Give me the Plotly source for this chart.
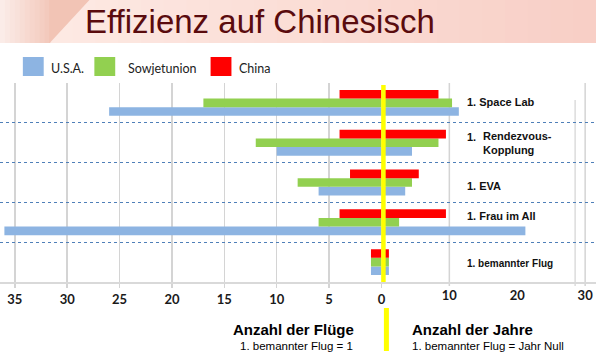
import plotly.graph_objects as go

# ---------------- data ----------------
categories = ["1. Space Lab", "1. Rendezvous-Kopplung", "1. EVA", "1. Frau im All", "1. bemannter Flug"]
series_names = ["U.S.A.", "Sowjetunion", "China"]
# left side: Anzahl der Flüge
flights_usa = [26, 10, 6, 36, 1]
flights_su = [17, 12, 8, 6, 1]
flights_cn = [4, 4, 3, 4, 1]
# right side: Anzahl der Jahre
years_usa = [11.4, 4.5, 3.5, 21.2, 1.1]
years_su = [10.4, 8.4, 4.5, 2.6, 1.1]
years_cn = [8.4, 9.5, 5.5, 9.5, 1.1]
left_ticks = [35, 30, 25, 20, 15, 10, 5, 0]
right_ticks = [10, 20, 30]
right_grid = [10, 30]

colors = {"U.S.A.": "#8db4e2", "Sowjetunion": "#92d050", "China": "#ff0000"}
flights = {"U.S.A.": flights_usa, "Sowjetunion": flights_su, "China": flights_cn}
years = {"U.S.A.": years_usa, "Sowjetunion": years_su, "China": years_cn}

W, H = 600, 360
PT, PB = 83, 282  # plot area top / bottom in px


def py(y):
    return (PB - y) / (PB - PT)


def px(x):
    return x / W


fig = go.Figure()
for name in series_names:
    fig.add_trace(go.Bar(y=categories, x=flights[name], orientation="h", name=name,
                         marker=dict(color=colors[name], line=dict(width=0)),
                         xaxis="x", yaxis="y", showlegend=False, hoverinfo="skip"))
    fig.add_trace(go.Bar(y=categories, x=years[name], orientation="h", name=name,
                         marker=dict(color=colors[name], line=dict(width=0)),
                         xaxis="x2", yaxis="y", showlegend=False, hoverinfo="skip"))

tickfont = dict(family="Lato", size=13, color="#1a1a1a", weight="bold")

shapes = []
annotations = []

# ---------- header background ----------
def mix(c1, c2, t):
    a = [int(c1[i:i + 2], 16) for i in (1, 3, 5)]
    b = [int(c2[i:i + 2], 16) for i in (1, 3, 5)]
    return "#%02x%02x%02x" % tuple(round(a[k] + (b[k] - a[k]) * t) for k in range(3))

HB = 43
n = 24
for i in range(n):
    x0 = 50 + (600 - 50) * i / n
    x1 = 50 + (600 - 50) * (i + 1) / n + 1
    shapes.append(dict(type="rect", xref="paper", yref="paper", x0=px(x0), x1=px(min(x1, 600)),
                       y0=py(HB), y1=py(0), fillcolor=mix("#fde9e3", "#f8cfc6", i / (n - 1)),
                       line=dict(width=0), layer="below"))
m = 10
for i in range(m):
    x0 = 50 * i / m
    x1 = 50 * (i + 1) / m + 0.6
    shapes.append(dict(type="rect", xref="paper", yref="paper", x0=px(x0), x1=px(x1),
                       y0=py(HB), y1=py(0), fillcolor=mix("#fbece8", "#f3cabd", i / (m - 1)),
                       line=dict(width=0), layer="below"))
shapes.append(dict(type="path", xref="paper", yref="paper",
                   path="M %f,%f L %f,%f L %f,%f L %f,%f Z" % (px(49.5), py(HB), px(49.5), py(0), px(90), py(0), px(50), py(HB)),
                   fillcolor="#f2c4b5", line=dict(width=0), layer="below"))

annotations.append(dict(text="Effizienz auf Chinesisch", xref="paper", yref="paper",
                        x=px(262), y=py(21), xanchor="center", yanchor="middle", showarrow=False,
                        font=dict(family="Liberation Sans", size=33, color="#5a0b0e")))

# ---------- custom legend ----------
leg_pos = {"U.S.A.": (23, 49), "Sowjetunion": (95, 127), "China": (212, 239)}
for name in series_names:
    bx, tx = leg_pos[name]
    shapes.append(dict(type="rect", xref="paper", yref="paper", x0=px(bx), x1=px(bx + 21),
                       y0=py(76), y1=py(57), fillcolor=colors[name], line=dict(width=0)))
    annotations.append(dict(text=name, xref="paper", yref="paper", x=px(tx), y=py(69),
                            xanchor="left", yanchor="middle", showarrow=False,
                            font=dict(family="Lato", size=12.5, color="#222222")))

# ---------- grid extras ----------
for g in right_grid:
    shapes.append(dict(type="line", xref="x2", yref="paper", x0=g, x1=g, y0=py(286), y1=1,
                       line=dict(color="#d4d4d4", width=1.5), layer="below"))
shapes.append(dict(type="line", xref="paper", yref="paper", x0=px(579), x1=px(579), y0=py(286), y1=py(100),
                   line=dict(color="#dcdcdc", width=1.5), layer="below"))

# yellow zero line
shapes.append(dict(type="line", xref="paper", yref="paper", x0=px(386), x1=px(386), y0=0, y1=py(85),
                   line=dict(color="#ffff00", width=4.5)))
shapes.append(dict(type="line", xref="paper", yref="paper", x0=px(389), x1=px(389), y0=py(308), y1=py(351),
                   line=dict(color="#ffff00", width=5)))

# ---------- category labels ----------
lab_font = dict(family="Liberation Sans", size=11, color="#111111")
label_x = 12.3
for cat in categories:
    if cat == "1. Rendezvous-Kopplung":
        annotations.append(dict(text="<b>1.</b>", xref="x2", yref="y", x=label_x, y=cat, yshift=6,
                                xanchor="left", yanchor="middle", showarrow=False, font=lab_font))
        annotations.append(dict(text="<b>Rendezvous-<br>Kopplung</b>", xref="x2", yref="y", x=14.6, y=cat,
                                xanchor="left", yanchor="middle", align="left", showarrow=False, font=lab_font))
    else:
        ys = {"1. EVA": -3, "1. Frau im All": 6, "1. Space Lab": 1, "1. bemannter Flug": -1}[cat]
        f = dict(lab_font)
        if cat == "1. bemannter Flug":
            f["size"] = 10
        annotations.append(dict(text="<b>%s</b>" % cat, xref="x2", yref="y", x=label_x, y=cat, yshift=ys,
                                xanchor="left", yanchor="middle", showarrow=False, font=f))

# ---------- bottom captions ----------
annotations += [
    dict(text="<b>Anzahl der Flüge</b>", xref="paper", yref="paper", x=px(358), y=py(329),
         xanchor="right", yanchor="middle", showarrow=False,
         font=dict(family="Liberation Sans", size=15, color="#000000")),
    dict(text="1. bemannter Flug = 1", xref="paper", yref="paper", x=px(357), y=py(346),
         xanchor="right", yanchor="middle", showarrow=False,
         font=dict(family="Liberation Sans", size=11.5, color="#000000")),
    dict(text="<b>Anzahl der Jahre</b>", xref="paper", yref="paper", x=px(413), y=py(329),
         xanchor="left", yanchor="middle", showarrow=False,
         font=dict(family="Liberation Sans", size=15, color="#000000")),
    dict(text="1. bemannter Flug = Jahr Null", xref="paper", yref="paper", x=px(413), y=py(346),
         xanchor="left", yanchor="middle", showarrow=False,
         font=dict(family="Liberation Sans", size=11.5, color="#000000")),
]

split = 384 / W
fig.update_layout(
    width=W, height=H,
    margin=dict(l=0, r=0, t=PT, b=H - PB, pad=0),
    paper_bgcolor="white", plot_bgcolor="white",
    barmode="group", bargap=0.35, bargroupgap=0,
    showlegend=False,
    xaxis=dict(domain=[0, split], range=[36.42, 0], tickmode="array", tickvals=left_ticks,
               showgrid=True, gridcolor="#d4d4d4", gridwidth=1.5, zeroline=False,
               showline=True, linecolor="#d9d9d9", linewidth=2,
               ticks="outside", ticklen=4, tickcolor="#d4d4d4", tickwidth=1.5,
               tickfont=tickfont, anchor="y", fixedrange=True),
    xaxis2=dict(domain=[split, 1], range=[0, 31.6], tickmode="array", tickvals=right_ticks,
                showgrid=False, zeroline=False,
                showline=True, linecolor="#d9d9d9", linewidth=2,
                ticks="", tickfont=tickfont, anchor="y", fixedrange=True),
    yaxis=dict(type="category", categoryorder="array", categoryarray=categories[::-1],
               range=[-0.5, 4.5], tickson="boundaries", showgrid=True, griddash="dot",
               gridcolor="#4f7fb8", gridwidth=1, showticklabels=False, ticks="",
               zeroline=False, showline=False, fixedrange=True),
    shapes=shapes,
    annotations=annotations,
)

fig.write_html("out.html", config={"displayModeBar": False, "staticPlot": True},
               post_script="document.body.style.margin='0';document.body.style.overflow='hidden';")
